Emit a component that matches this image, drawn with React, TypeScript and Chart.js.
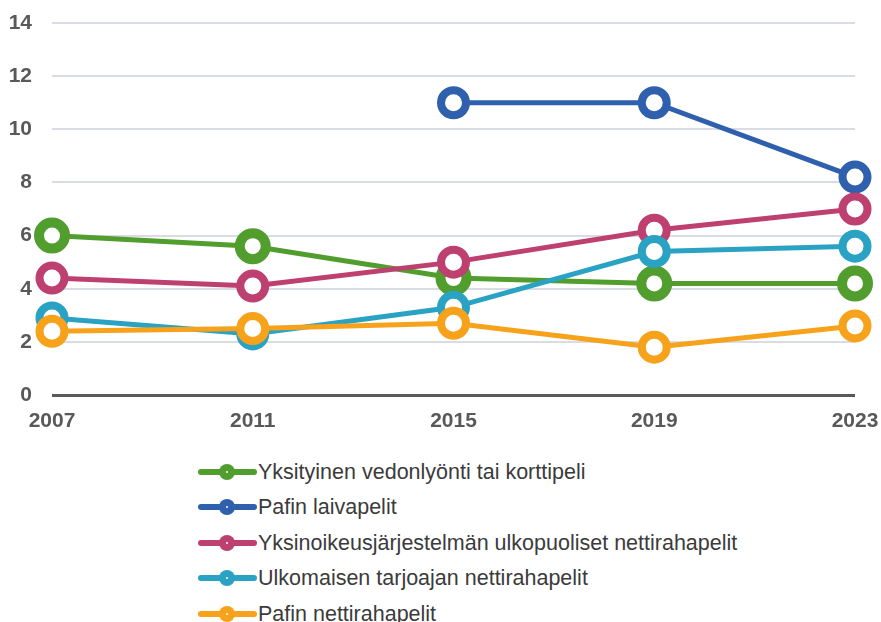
import React, { useEffect, useRef } from "react";
import { Chart, registerables } from "chart.js";
Chart.register(...registerables);

const years = ["2007", "2011", "2015", "2019", "2023"];
const seriesNames = [
  "Yksityinen vedonlyönti tai korttipeli",
  "Pafin laivapelit",
  "Yksinoikeusjärjestelmän ulkopuoliset nettirahapelit",
  "Ulkomaisen tarjoajan nettirahapelit",
  "Pafin nettirahapelit",
];
const yksityinen = [6.0, 5.6, 4.4, 4.2, 4.2];
const pafinLaivapelit = [null, null, 11.0, 11.0, 8.2];
const ulkopuoliset = [4.4, 4.1, 5.0, 6.2, 7.0];
const ulkomaisen = [2.9, 2.3, 3.3, 5.4, 5.6];
const pafinNetti = [2.4, 2.5, 2.7, 1.8, 2.6];
const seriesColors = ["#519d2e", "#2f60ad", "#be4071", "#2aa2c3", "#f7a21b"];
const yMin = 0;
const yMax = 14;
const yStep = 2;

const FONT = "Arial, 'Liberation Sans', sans-serif";

export default function App() {
  const ref = useRef<HTMLCanvasElement | null>(null);

  useEffect(() => {
    const prevMargin = document.body.style.margin;
    document.body.style.margin = "0";
    const values = [yksityinen, pafinLaivapelit, ulkopuoliset, ulkomaisen, pafinNetti];
    const datasets = values.map((data, i) => ({
      label: seriesNames[i],
      data,
      borderColor: seriesColors[i],
      backgroundColor: seriesColors[i],
      borderWidth: 5,
      pointRadius: i === 0 ? 13 : 12.5,
      pointBorderWidth: i === 0 ? 10 : 8,
      pointBackgroundColor: "#ffffff",
      pointBorderColor: seriesColors[i],
      pointHoverRadius: i === 0 ? 13 : 12.5,
      tension: 0,
      order: values.length - i,
      spanGaps: false,
    }));
    const zeroPad = (s: any) => {
      s.paddingTop = 0;
      s.paddingBottom = 0;
      s.paddingLeft = 0;
      s.paddingRight = 0;
    };
    const chart = new Chart(ref.current as HTMLCanvasElement, {
      type: "line",
      data: { labels: years, datasets },
      options: {
        animation: false,
        responsive: false,
        devicePixelRatio: 1,
        layout: { padding: { top: 21, right: 26, left: 0, bottom: 0 } },
        plugins: { legend: { display: false }, tooltip: { enabled: false } },
        scales: {
          x: {
            grid: { display: false, drawTicks: false },
            border: { display: false },
            ticks: {
              padding: 14,
              color: "#595959",
              font: { family: FONT, size: 21, weight: "bold" },
              maxRotation: 0,
            },
            afterFit: (s: any) => {
              s.height = 45;
              zeroPad(s);
            },
          },
          y: {
            min: yMin,
            max: yMax,
            ticks: {
              stepSize: yStep,
              padding: 20,
              color: "#595959",
              font: { family: FONT, size: 21, weight: "bold" },
            },
            grid: {
              drawTicks: false,
              color: (ctx: any) => (ctx.tick && ctx.tick.value === 0 ? "#595959" : "#d9dde3"),
              lineWidth: (ctx: any) => (ctx.tick && ctx.tick.value === 0 ? 3 : 2),
            },
            border: { display: false },
            afterFit: (s: any) => {
              s.width = 52;
              zeroPad(s);
            },
          },
        },
      },
    } as any);
    return () => {
      chart.destroy();
      document.body.style.margin = prevMargin;
    };
  }, []);

  return (
    <div
      style={{
        position: "absolute",
        left: 0,
        top: 0,
        width: 881,
        height: 622,
        overflow: "hidden",
        background: "#ffffff",
      }}
    >
      <canvas ref={ref} width={881} height={440} style={{ display: "block" }} />
      <div style={{ position: "absolute", left: 198, top: 454 }}>
        {seriesNames.map((name, i) => (
          <div
            key={name}
            style={{ display: "flex", alignItems: "center", height: 35.5 }}
          >
            <div style={{ position: "relative", width: 60, height: 18 }}>
              <div
                style={{
                  position: "absolute",
                  left: 0,
                  top: 6,
                  width: 59,
                  height: 6,
                  borderRadius: 3,
                  background: seriesColors[i],
                }}
              />
              <div
                style={{
                  position: "absolute",
                  left: 21,
                  top: 1,
                  width: 16,
                  height: 16,
                  borderRadius: 8,
                  background: seriesColors[i],
                }}
              />
              <div
                style={{
                  position: "absolute",
                  left: 28,
                  top: 8,
                  width: 2,
                  height: 2,
                  borderRadius: 1,
                  background: "#ffffff",
                }}
              />
            </div>
            <span
              style={{
                fontFamily: FONT,
                fontSize: 21.5,
                color: "#3b3b3b",
                whiteSpace: "nowrap",
                lineHeight: "22px",
              }}
            >
              {name}
            </span>
          </div>
        ))}
      </div>
    </div>
  );
}
